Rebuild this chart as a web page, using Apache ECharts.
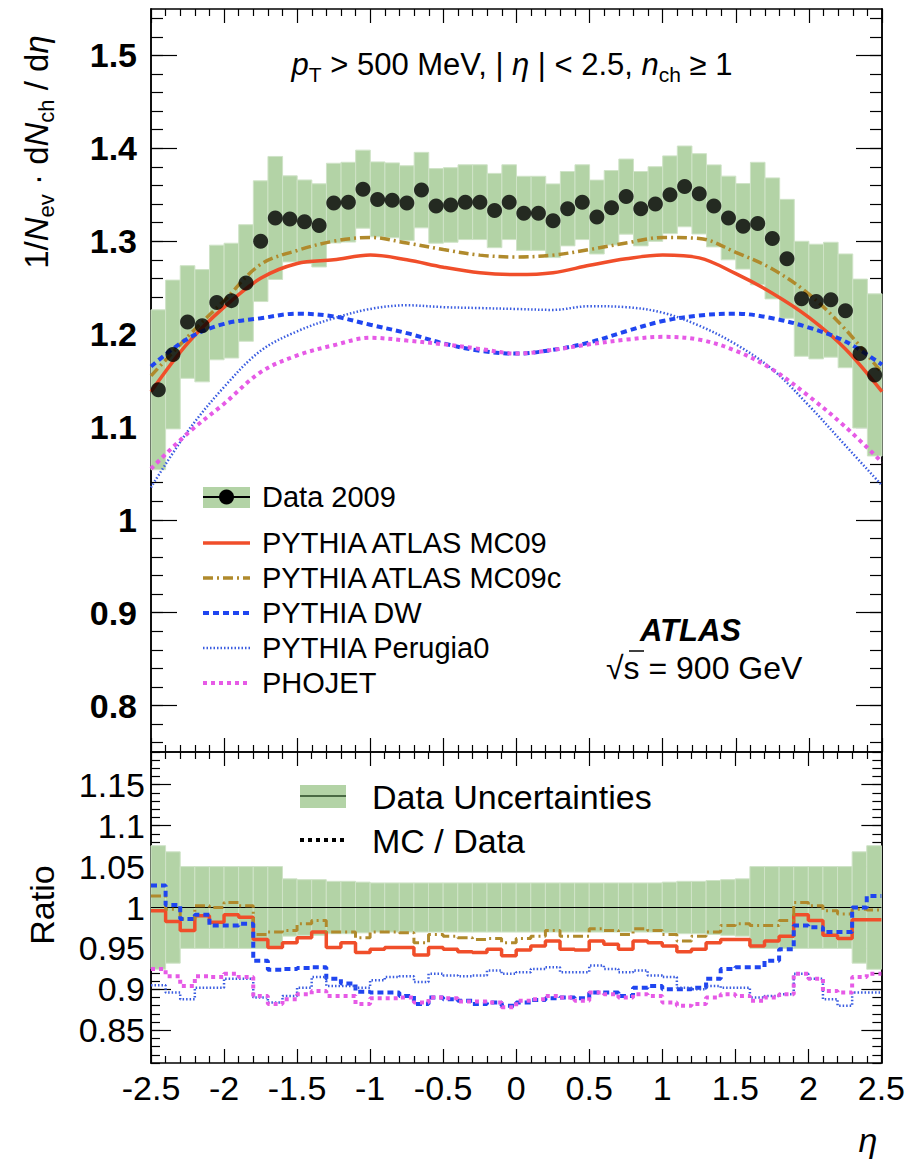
<!DOCTYPE html>
<html>
<head>
<meta charset="utf-8">
<title>ATLAS charged-particle eta distribution, 900 GeV</title>
<script src="https://cdn.jsdelivr.net/npm/echarts@6/dist/echarts.min.js"></script>
<style>
  html, body { margin: 0; padding: 0; background: #fff; }
  #main { width: 908px; height: 1159px; }
</style>
</head>
<body>
<div id="main"></div>
<script>
// bin centres in eta (bin width 0.1)
const etaBins = [-2.45, -2.35, -2.25, -2.15, -2.05, -1.95, -1.85, -1.75, -1.65, -1.55,
  -1.45, -1.35, -1.25, -1.15, -1.05, -0.95, -0.85, -0.75, -0.65, -0.55,
  -0.45, -0.35, -0.25, -0.15, -0.05, 0.05, 0.15, 0.25, 0.35, 0.45,
  0.55, 0.65, 0.75, 0.85, 0.95, 1.05, 1.15, 1.25, 1.35, 1.45,
  1.55, 1.65, 1.75, 1.85, 1.95, 2.05, 2.15, 2.25, 2.35, 2.45];

// Data 2009
const dataVals = [1.140, 1.178, 1.213, 1.209, 1.234, 1.236, 1.255, 1.300, 1.325, 1.324,
  1.321, 1.317, 1.341, 1.342, 1.356, 1.345, 1.344, 1.341, 1.355, 1.338,
  1.339, 1.342, 1.342, 1.333, 1.342, 1.330, 1.330, 1.322, 1.335, 1.342,
  1.326, 1.336, 1.348, 1.335, 1.340, 1.350, 1.359, 1.351, 1.338, 1.325,
  1.316, 1.319, 1.303, 1.281, 1.238, 1.235, 1.237, 1.225, 1.179, 1.156];

// relative data uncertainty (half width of the green band)
const dataRelErr = [0.0755, 0.068, 0.05, 0.05, 0.05, 0.05, 0.05, 0.05, 0.05, 0.035,
  0.034, 0.034, 0.032, 0.032, 0.031, 0.030, 0.030, 0.030, 0.030, 0.030,
  0.030, 0.030, 0.030, 0.030, 0.030, 0.030, 0.030, 0.030, 0.030, 0.030,
  0.030, 0.030, 0.030, 0.030, 0.030, 0.031, 0.032, 0.032, 0.033, 0.034,
  0.035, 0.05, 0.05, 0.05, 0.05, 0.05, 0.05, 0.05, 0.068, 0.0755];

// MC predictions, upper panel
const mcEta = [-2.5, -2.25, -2, -1.75, -1.5, -1.25, -1, -0.75, -0.5, -0.25, 0,
  0.25, 0.5, 0.75, 1, 1.25, 1.5, 1.75, 2, 2.25, 2.5];
const mcMC09 = [1.138, 1.190, 1.229, 1.260, 1.276, 1.280, 1.285, 1.280, 1.272, 1.266, 1.264,
  1.266, 1.274, 1.281, 1.285, 1.282, 1.265, 1.244, 1.218, 1.184, 1.138];
const mcMC09c = [1.155, 1.197, 1.236, 1.275, 1.290, 1.300, 1.304, 1.298, 1.291, 1.285, 1.283,
  1.285, 1.291, 1.298, 1.304, 1.303, 1.288, 1.270, 1.243, 1.205, 1.158];
const mcDW = [1.165, 1.195, 1.211, 1.217, 1.222, 1.219, 1.210, 1.201, 1.190, 1.182, 1.179,
  1.183, 1.191, 1.203, 1.214, 1.220, 1.222, 1.217, 1.207, 1.192, 1.167];
const mcPerugia0 = [1.035, 1.095, 1.143, 1.182, 1.203, 1.217, 1.227, 1.231, 1.229, 1.228, 1.227,
  1.226, 1.230, 1.229, 1.223, 1.209, 1.189, 1.162, 1.123, 1.080, 1.037];
const mcPhojet = [1.055, 1.093, 1.125, 1.159, 1.177, 1.188, 1.196, 1.193, 1.189, 1.184, 1.179,
  1.183, 1.189, 1.194, 1.197, 1.194, 1.182, 1.162, 1.133, 1.100, 1.062];

// MC / Data, lower panel (one value per bin)
const ratioMC09 = [0.996, 0.983, 0.972, 0.990, 0.982, 0.991, 0.988, 0.961, 0.951, 0.957,
  0.963, 0.970, 0.951, 0.957, 0.945, 0.949, 0.951, 0.951, 0.942, 0.951,
  0.949, 0.946, 0.945, 0.949, 0.941, 0.948, 0.953, 0.959, 0.949, 0.948,
  0.959, 0.955, 0.949, 0.959, 0.957, 0.953, 0.946, 0.949, 0.957, 0.961,
  0.961, 0.953, 0.959, 0.965, 0.991, 0.984, 0.966, 0.962, 0.985, 0.985];
const ratioMC09c = [1.014, 0.998, 0.986, 1.002, 1.000, 1.006, 1.002, 0.967, 0.970, 0.972,
  0.980, 0.984, 0.970, 0.970, 0.963, 0.970, 0.970, 0.969, 0.957, 0.967,
  0.965, 0.963, 0.961, 0.962, 0.957, 0.962, 0.965, 0.972, 0.965, 0.965,
  0.974, 0.972, 0.967, 0.974, 0.972, 0.967, 0.959, 0.965, 0.970, 0.978,
  0.980, 0.978, 0.978, 0.984, 1.006, 1.002, 0.996, 0.992, 0.998, 0.997];
const ratioDW = [1.027, 1.003, 0.986, 0.991, 0.978, 0.978, 0.980, 0.935, 0.924, 0.925,
  0.926, 0.927, 0.913, 0.907, 0.897, 0.896, 0.896, 0.892, 0.882, 0.890,
  0.888, 0.886, 0.882, 0.884, 0.880, 0.884, 0.887, 0.889, 0.890, 0.889,
  0.896, 0.896, 0.892, 0.902, 0.904, 0.900, 0.900, 0.902, 0.913, 0.925,
  0.927, 0.927, 0.935, 0.949, 0.978, 0.976, 0.970, 0.970, 1.000, 1.014];
const ratioPerugia0 = [0.905, 0.896, 0.888, 0.902, 0.902, 0.913, 0.913, 0.890, 0.884, 0.892,
  0.902, 0.915, 0.904, 0.904, 0.902, 0.911, 0.915, 0.916, 0.909, 0.919,
  0.917, 0.916, 0.917, 0.923, 0.919, 0.921, 0.925, 0.927, 0.921, 0.921,
  0.929, 0.925, 0.921, 0.923, 0.917, 0.915, 0.902, 0.900, 0.904, 0.902,
  0.902, 0.890, 0.892, 0.894, 0.919, 0.913, 0.888, 0.880, 0.896, 0.896];
const ratioPhojet = [0.925, 0.916, 0.904, 0.916, 0.915, 0.919, 0.915, 0.892, 0.882, 0.888,
  0.894, 0.898, 0.892, 0.892, 0.882, 0.889, 0.889, 0.890, 0.884, 0.890,
  0.889, 0.885, 0.885, 0.884, 0.878, 0.886, 0.888, 0.892, 0.890, 0.886,
  0.896, 0.894, 0.890, 0.894, 0.892, 0.884, 0.880, 0.882, 0.890, 0.894,
  0.892, 0.886, 0.890, 0.894, 0.919, 0.913, 0.898, 0.896, 0.915, 0.919];

// tick labels
const yTicksMain = [0.8, 0.9, 1, 1.1, 1.2, 1.3, 1.4, 1.5];
const yTicksRatio = [0.85, 0.9, 0.95, 1, 1.05, 1.1, 1.15];

const halfBin = 0.05;
const FONT = 'Liberation Sans, Arial, Helvetica, sans-serif';
const bandColor = '#b3d3a6';
const bandEdge = '#cfe3c7';
const cMC09 = '#f04e2a';
const cMC09c = '#b08a2c';
const cDW = '#1f45f0';
const cPerugia = '#3a5ce0';
const cPhojet = '#e65ae6';

function steps(from, to, step) {
  const out = [];
  for (let k = Math.round(from / step); k * step <= to + 1e-9; k++) out.push(+(k * step).toFixed(3));
  return out;
}
const yMinorMain = steps(0.76, 1.54, 0.02);
const yMinorRatio = steps(0.81, 1.19, 0.01);

const chart = echarts.init(document.getElementById('main'), null, { renderer: 'svg' });

const axLine = { show: true, onZero: false, lineStyle: { color: '#000', width: 1.5 } };

function xAx(gridIndex, position, withLabels) {
  return {
    type: 'value', gridIndex: gridIndex, position: position,
    min: -2.5, max: 2.5, interval: 0.5,
    axisLine: axLine,
    axisTick: { show: true, inside: true, length: 14, lineStyle: { color: '#000', width: 1.2 } },
    minorTick: { show: true, splitNumber: 5, length: 7, lineStyle: { color: '#000', width: 1.2 } },
    splitLine: { show: false },
    axisLabel: withLabels ? {
      show: true, color: '#000', fontFamily: FONT, fontSize: 34, margin: 8,
      showMinLabel: true, showMaxLabel: true, hideOverlap: false
    } : { show: false }
  };
}

function yAx(gridIndex, position, min, max, vals, len, label) {
  return {
    type: 'value', gridIndex: gridIndex, position: position, min: min, max: max,
    axisLine: axLine,
    axisTick: { show: true, inside: true, length: len, customValues: vals,
      lineStyle: { color: '#000', width: 1.2 } },
    splitLine: { show: false },
    axisLabel: label ? Object.assign({ show: true, customValues: vals, color: '#000', fontFamily: FONT }, label)
      : { show: false }
  };
}

function bandSeries(xi, yi, lo, hi) {
  return {
    type: 'custom', xAxisIndex: xi, yAxisIndex: yi, z: 1, silent: true,
    data: etaBins.map((c, i) => [c - halfBin, c + halfBin, lo[i], hi[i]]),
    encode: { x: [0, 1], y: [2, 3] },
    renderItem: function (params, api) {
      const a = api.coord([api.value(0), api.value(3)]);
      const b = api.coord([api.value(1), api.value(2)]);
      return {
        type: 'rect',
        shape: { x: a[0], y: a[1], width: b[0] - a[0], height: b[1] - a[1] },
        style: { fill: bandColor, stroke: bandEdge, lineWidth: 1 }
      };
    }
  };
}

function curve(name, vals, color, width, dash) {
  return {
    name: name, type: 'line', xAxisIndex: 0, yAxisIndex: 0, z: 4,
    smooth: 0.35, showSymbol: false, silent: true,
    data: mcEta.map((x, i) => [x, vals[i]]),
    lineStyle: { color: color, width: width, type: dash || 'solid', cap: 'butt' }
  };
}

function stepLine(name, vals, color, width, dash) {
  const pts = etaBins.map((c, i) => [c - halfBin, vals[i]]);
  pts.push([etaBins[etaBins.length - 1] + halfBin, vals[vals.length - 1]]);
  return {
    name: name, type: 'line', xAxisIndex: 2, yAxisIndex: 4, z: 4,
    step: 'end', showSymbol: false, silent: true,
    data: pts,
    lineStyle: { color: color, width: width, type: dash || 'solid', cap: 'butt' }
  };
}

const bandLoMain = dataVals.map((v, i) => v * (1 - dataRelErr[i]));
const bandHiMain = dataVals.map((v, i) => v * (1 + dataRelErr[i]));
const bandLoRatio = dataRelErr.map(e => 1 - e);
const bandHiRatio = dataRelErr.map(e => 1 + e);

const dashDot = [10, 4, 2, 4];
const dashDW = [6, 4];
const dotFine = [1.5, 2];
const dotPho = [4, 4];

// rich text styles for the annotations with sub-scripts
function richSet(size, sub) {
  return {
    n: { fontFamily: FONT, fontSize: size, lineHeight: size + 10, color: '#000' },
    i: { fontFamily: FONT, fontSize: size, fontStyle: 'italic', lineHeight: size + 10, color: '#000' },
    s: { fontFamily: FONT, fontSize: sub, lineHeight: sub + 1, verticalAlign: 'bottom', color: '#000' }
  };
}

function legLine(y, color, width, dash) {
  return { type: 'line', shape: { x1: 203, y1: y, x2: 250, y2: y },
    style: { stroke: color, lineWidth: width, lineDash: dash || null }, z: 100 };
}
function legText(x, y, text, size) {
  return { type: 'text', x: x, y: y, z: 100,
    style: { text: text, fill: '#000', font: size + 'px ' + FONT, textVerticalAlign: 'middle' } };
}

const legendRows = [
  { y: 543, label: 'PYTHIA ATLAS MC09', color: cMC09, width: 3.5, dash: null },
  { y: 578, label: 'PYTHIA ATLAS MC09c', color: cMC09c, width: 3.5, dash: dashDot },
  { y: 613, label: 'PYTHIA DW', color: cDW, width: 4, dash: dashDW },
  { y: 648, label: 'PYTHIA Perugia0', color: cPerugia, width: 2.5, dash: dotFine },
  { y: 683, label: 'PHOJET', color: cPhojet, width: 4, dash: dotPho }
];

const graphics = [
  { type: 'rect', z: 100, shape: { x: 203, y: 487, width: 47, height: 21 }, style: { fill: bandColor } },
  legLine(497, '#000', 2, null),
  { type: 'circle', z: 101, shape: { cx: 226.5, cy: 497, r: 7.5 }, style: { fill: '#000' } },
  legText(262, 497, 'Data 2009', 29)
];
legendRows.forEach(r => {
  graphics.push(legLine(r.y, r.color, r.width, r.dash));
  graphics.push(legText(262, r.y, r.label, 29));
});
graphics.push(
  // lower legend
  { type: 'rect', z: 100, shape: { x: 300, y: 785, width: 46, height: 23 }, style: { fill: bandColor } },
  { type: 'line', z: 101, shape: { x1: 300, y1: 796, x2: 346, y2: 796 }, style: { stroke: '#4a6a44', lineWidth: 2 } },
  legText(372, 797, 'Data Uncertainties', 34),
  { type: 'line', z: 101, shape: { x1: 300, y1: 840, x2: 346, y2: 840 },
    style: { stroke: '#000', lineWidth: 4, lineDash: [4, 4] } },
  legText(372, 841, 'MC / Data', 34),
  // cuts
  { type: 'text', x: 512, y: 64, z: 100,
    style: { text: '{i|p}{s|T}{n| > 500 MeV, | }{i|η}{n| | < 2.5, }{i|n}{s|ch}{n| ≥ 1}',
      rich: richSet(31, 21), textAlign: 'center', textVerticalAlign: 'middle' } },
  // experiment label
  { type: 'text', x: 640, y: 630, z: 100,
    style: { text: 'ATLAS', fill: '#000', font: 'italic bold 31px ' + FONT, textVerticalAlign: 'middle' } },
  { type: 'text', x: 606, y: 668, z: 100,
    style: { text: '√s = 900 GeV', fill: '#000', font: '32px ' + FONT, textVerticalAlign: 'middle' } },
  { type: 'line', z: 100, shape: { x1: 629, y1: 651, x2: 644, y2: 651 }, style: { stroke: '#000', lineWidth: 1.5 } },
  // axis titles
  { type: 'text', x: 36, y: 152, rotation: Math.PI / 2, z: 100,
    style: { text: '{n|1/}{i|N}{s|ev}{n| · d}{i|N}{s|ch}{n| / d}{i|η}',
      rich: richSet(33, 22), textAlign: 'center', textVerticalAlign: 'middle' } },
  { type: 'text', x: 42, y: 905, rotation: Math.PI / 2, z: 100,
    style: { text: 'Ratio', fill: '#000', font: '34px ' + FONT, textAlign: 'center', textVerticalAlign: 'middle' } },
  { type: 'text', x: 868, y: 1140, z: 100,
    style: { text: 'η', fill: '#000', font: 'italic 34px ' + FONT, textAlign: 'center', textVerticalAlign: 'middle' } }
);

const option = {
  animation: false,
  backgroundColor: '#fff',
  grid: [
    { left: 151, right: 26, top: 9, height: 743 },
    { left: 151, right: 26, top: 752, height: 311 }
  ],
  xAxis: [
    xAx(0, 'bottom', false),
    xAx(0, 'top', false),
    xAx(1, 'bottom', true),
    xAx(1, 'top', false)
  ],
  yAxis: [
    yAx(0, 'left', 0.75, 1.55, yTicksMain, 26, { fontSize: 34, margin: 14, fontWeight: 'bold' }),
    yAx(0, 'left', 0.75, 1.55, yMinorMain, 12, null),
    yAx(0, 'right', 0.75, 1.55, yTicksMain, 26, null),
    yAx(0, 'right', 0.75, 1.55, yMinorMain, 12, null),
    yAx(1, 'left', 0.81, 1.19, yTicksRatio, 20, { fontSize: 34, margin: 6 }),
    yAx(1, 'left', 0.81, 1.19, yMinorRatio, 9, null),
    yAx(1, 'right', 0.81, 1.19, yTicksRatio, 20, null),
    yAx(1, 'right', 0.81, 1.19, yMinorRatio, 9, null)
  ],
  graphic: graphics,
  series: [
    bandSeries(0, 0, bandLoMain, bandHiMain),
    curve('PYTHIA ATLAS MC09', mcMC09, cMC09, 3.5),
    curve('PYTHIA ATLAS MC09c', mcMC09c, cMC09c, 3.5, dashDot),
    curve('PYTHIA DW', mcDW, cDW, 4, dashDW),
    curve('PYTHIA Perugia0', mcPerugia0, cPerugia, 2.5, dotFine),
    curve('PHOJET', mcPhojet, cPhojet, 4, dotPho),
    {
      name: 'Data 2009', type: 'scatter', xAxisIndex: 0, yAxisIndex: 0, z: 10, silent: true,
      symbol: 'circle', symbolSize: 15, itemStyle: { color: '#000' },
      data: etaBins.map((x, i) => [x, dataVals[i]])
    },
    bandSeries(2, 4, bandLoRatio, bandHiRatio),
    {
      type: 'line', xAxisIndex: 2, yAxisIndex: 4, z: 3, silent: true, showSymbol: false,
      data: [[-2.5, 1], [2.5, 1]], lineStyle: { color: '#000', width: 1.2 }
    },
    stepLine('PYTHIA ATLAS MC09', ratioMC09, cMC09, 3.5),
    stepLine('PYTHIA ATLAS MC09c', ratioMC09c, cMC09c, 3, dashDot),
    stepLine('PYTHIA DW', ratioDW, cDW, 4, dashDW),
    stepLine('PYTHIA Perugia0', ratioPerugia0, cPerugia, 2.5, dotFine),
    stepLine('PHOJET', ratioPhojet, cPhojet, 4, dotPho)
  ]
};

chart.setOption(option);
</script>
</body>
</html>
